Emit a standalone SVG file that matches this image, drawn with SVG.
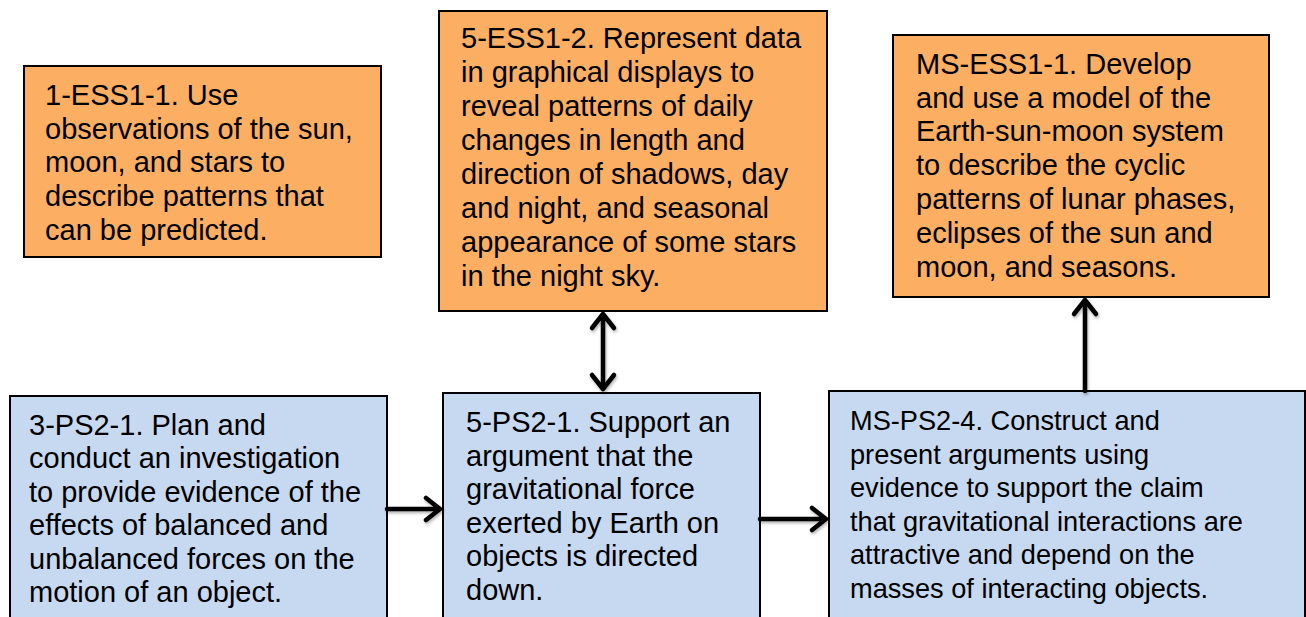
<svg xmlns="http://www.w3.org/2000/svg" width="1306" height="617" viewBox="0 0 1306 617">
<defs>
<style>
.orange{fill:#FCAE62;stroke:#000;stroke-width:2}
.blue{fill:#C6D9F1;stroke:#000;stroke-width:2}
text{font-family:"Liberation Sans",Arial,sans-serif;font-size:29px;fill:#000}
.small{font-size:27.2px}
.conn{fill:none;stroke:#000;stroke-width:4.5;stroke-linecap:round;stroke-linejoin:round}
</style>
<filter id="sh" x="-50%" y="-50%" width="200%" height="200%">
<feDropShadow dx="1" dy="2" stdDeviation="1.5" flood-color="#000" flood-opacity="0.3"/>
</filter>
</defs>
<rect width="1306" height="617" fill="#fff"/>
<g id="n1">
<rect class="orange" x="24" y="66" width="357" height="191"/>
<text x="45" y="105">1-ESS1-1. Use</text>
<text x="45" y="139">observations of the sun,</text>
<text x="45" y="172">moon, and stars to</text>
<text x="45" y="206">describe patterns that</text>
<text x="45" y="240">can be predicted.</text>
</g>
<g id="n2">
<rect class="orange" x="439" y="11" width="388" height="300"/>
<text x="461" y="48">5-ESS1-2. Represent data</text>
<text x="461" y="82">in graphical displays to</text>
<text x="461" y="116">reveal patterns of daily</text>
<text x="461" y="150">changes in length and</text>
<text x="461" y="184">direction of shadows, day</text>
<text x="461" y="218">and night, and seasonal</text>
<text x="461" y="252">appearance of some stars</text>
<text x="461" y="286">in the night sky.</text>
</g>
<g id="n3">
<rect class="orange" x="893" y="35" width="376" height="262"/>
<text x="916" y="74">MS-ESS1-1. Develop</text>
<text x="916" y="108">and use a model of the</text>
<text x="916" y="141">Earth-sun-moon system</text>
<text x="916" y="175">to describe the cyclic</text>
<text x="916" y="209">patterns of lunar phases,</text>
<text x="916" y="243">eclipses of the sun and</text>
<text x="916" y="277">moon, and seasons.</text>
</g>
<g id="n4">
<rect class="blue" x="10" y="396" width="377" height="240"/>
<text x="29" y="435">3-PS2-1. Plan and</text>
<text x="29" y="468">conduct an investigation</text>
<text x="29" y="502">to provide evidence of the</text>
<text x="29" y="535">effects of balanced and</text>
<text x="29" y="569">unbalanced forces on the</text>
<text x="29" y="602">motion of an object.</text>
</g>
<g id="n5">
<rect class="blue" x="443" y="393" width="317" height="240"/>
<text x="466" y="432">5-PS2-1. Support an</text>
<text x="466" y="466">argument that the</text>
<text x="466" y="499">gravitational force</text>
<text x="466" y="533">exerted by Earth on</text>
<text x="466" y="566">objects is directed</text>
<text x="466" y="600">down.</text>
</g>
<g id="n6">
<rect class="blue" x="829" y="391" width="476" height="240"/>
<text class="small" x="850" y="430">MS-PS2-4. Construct and</text>
<text class="small" x="850" y="464">present arguments using</text>
<text class="small" x="850" y="497">evidence to support the claim</text>
<text class="small" x="850" y="531">that gravitational interactions are</text>
<text class="small" x="850" y="564">attractive and depend on the</text>
<text class="small" x="850" y="598">masses of interacting objects.</text>
</g>
<g id="connectors" filter="url(#sh)">
<path class="conn" d="M387 509 H440 M426 498 L440 509 L426 520"/>
<path class="conn" d="M760 519 H826 M812 508 L826 519 L812 530"/>
<path class="conn" d="M603 314 V389 M592 328 L603 314 L614 328 M592 375 L603 389 L614 375"/>
<path class="conn" d="M1085 391 V300 M1074 314 L1085 300 L1096 314"/>
</g>
</svg>
